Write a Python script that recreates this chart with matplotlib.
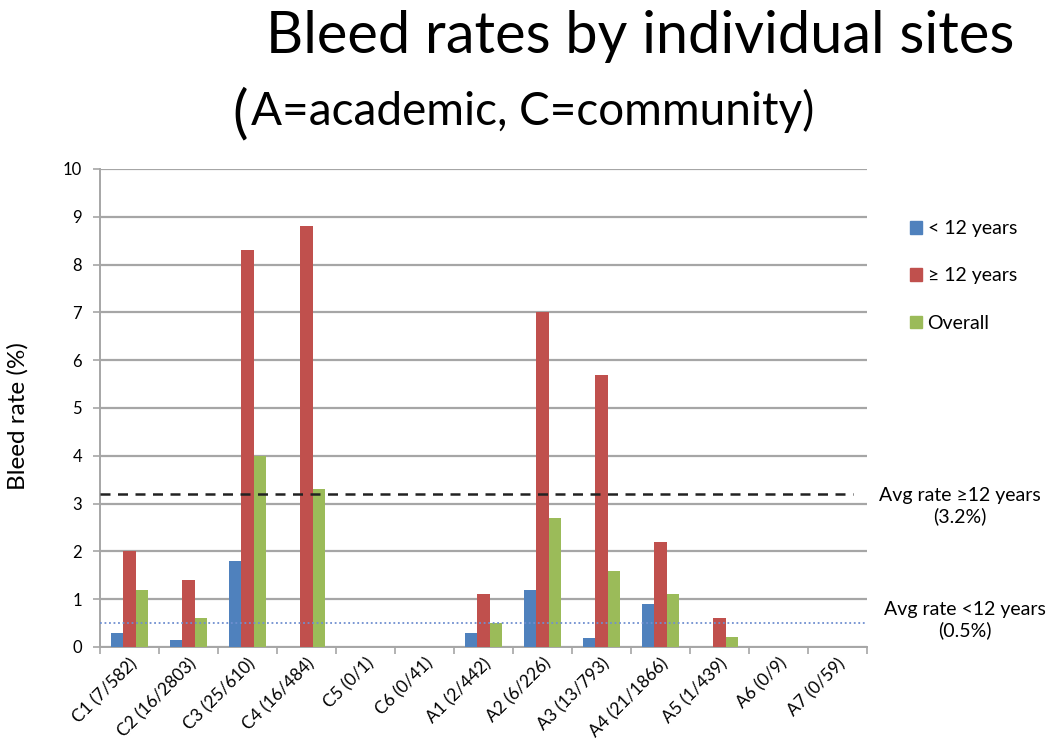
import numpy as np
import matplotlib
matplotlib.use("Agg")
from matplotlib import pyplot as plt
from matplotlib.patches import Patch

plt.rcParams['font.family'] = ['Lato', 'DejaVu Sans']

# data
sites = ['C1 (7/582)', 'C2 (16/2803)', 'C3 (25/610)', 'C4 (16/484)', 'C5 (0/1)',
         'C6 (0/41)', 'A1 (2/442)', 'A2 (6/226)', 'A3 (13/793)', 'A4 (21/1866)',
         'A5 (1/439)', 'A6 (0/9)', 'A7 (0/59)']
under12 = [0.3, 0.15, 1.8, 0.0, 0.0, 0.0, 0.3, 1.2, 0.18, 0.9, 0.0, 0.0, 0.0]
over12 = [2.0, 1.4, 8.3, 8.8, 0.0, 0.0, 1.1, 7.0, 5.7, 2.2, 0.6, 0.0, 0.0]
overall = [1.2, 0.6, 4.0, 3.3, 0.0, 0.0, 0.5, 2.7, 1.6, 1.1, 0.2, 0.0, 0.0]
avg_over12 = 3.2
avg_under12 = 0.5

c_blue = '#4F81BD'
c_red = '#C0504D'
c_green = '#9BBB59'
c_grid = '#A6A6A6'

fig = plt.figure(figsize=(10.5, 7.51), dpi=100)
ax = fig.add_axes([0.0952, 0.1385, 0.7305, 0.6365])

x = np.arange(len(sites))
w = 0.205
ax.bar(x - w, under12, w, color=c_blue, zorder=3)
ax.bar(x, over12, w, color=c_red, zorder=3)
ax.bar(x + w, overall, w, color=c_green, zorder=3)

ax.set_xlim(-0.5, len(sites) - 0.5)
ax.set_ylim(0, 10)
ax.set_yticks(range(0, 11))
ax.yaxis.grid(True, color=c_grid, linewidth=1.6, zorder=0)
ax.set_axisbelow(True)

# average lines
ax.axhline(avg_over12, xmin=0, xmax=0.982, color='#222222', linestyle=(0, (4, 3)),
           linewidth=1.8, zorder=4)
ax.axhline(avg_under12, xmin=0, xmax=1.0, color='#6F8FD0', linestyle=(0, (1, 1.5)),
           linewidth=1.3, zorder=4, clip_on=False)

ax.set_xticks(np.arange(len(sites) + 1) - 0.5, minor=False)
ax.set_xticklabels([])
ax.set_xticks(x, minor=True)
ax.set_xticklabels(sites, minor=True, rotation=45, ha='right', rotation_mode='anchor',
                   fontsize=12.5)
ax.tick_params(axis='x', which='minor', length=0, pad=6)
ax.tick_params(axis='x', which='major', length=5, color=c_grid, width=1.2)
ax.tick_params(axis='y', length=5, color=c_grid, width=1.2, labelsize=12, pad=8)

for s in ['top', 'right']:
    ax.spines[s].set_visible(False)
for s in ['left', 'bottom']:
    ax.spines[s].set_color(c_grid)
    ax.spines[s].set_linewidth(1.4)

ax.set_ylabel('Bleed rate (%)', fontsize=17.5)
ax.yaxis.set_label_coords(-0.093, 0.483)

# legend
handles = [Patch(color=c_blue, label='< 12 years'),
           Patch(color=c_red, label='≥ 12 years'),
           Patch(color=c_green, label='Overall')]
fig.legend(handles=handles, loc='upper left', bbox_to_anchor=(0.85, 0.73),
           frameon=False, fontsize=14, handlelength=0.6, handleheight=0.6,
           handletextpad=0.3, labelspacing=1.55)

# annotations for average lines
fig.text(0.914, 0.326, 'Avg rate ≥12 years\n(3.2%)', ha='center', va='center',
         fontsize=14, linespacing=1.2)
fig.text(0.919, 0.174, 'Avg rate <12 years\n(0.5%)', ha='center', va='center',
         fontsize=14, linespacing=1.2)

# titles
fig.text(0.61, 0.951, 'Bleed rates by individual sites', ha='center', va='center',
         fontsize=41.5)
fig.text(0.229, 0.848, '(', ha='center', va='center', fontsize=42)
fig.text(0.507, 0.852, 'A=academic, C=community)', ha='center', va='center',
         fontsize=33)

fig.savefig('out.png', dpi=100)
